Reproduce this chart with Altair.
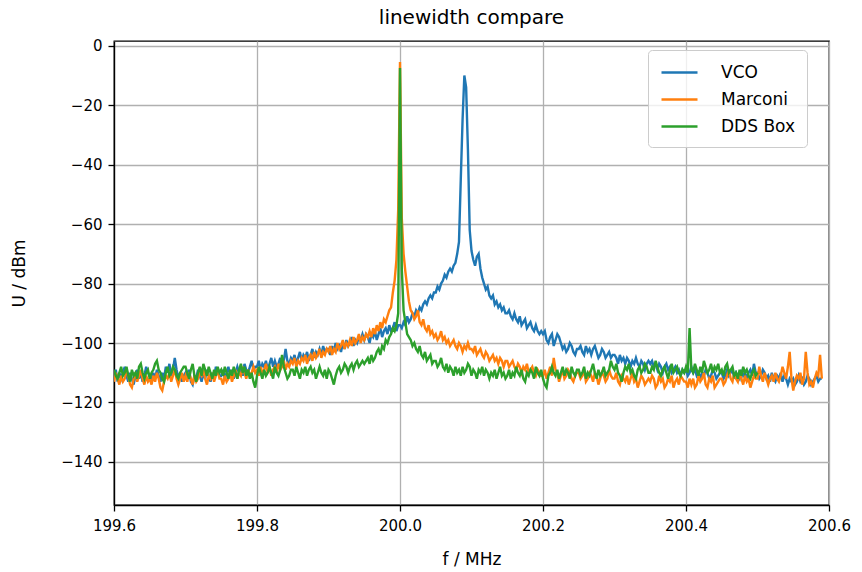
import altair as alt
import numpy as np
import pandas as pd

# Spectrum analyser traces, sampled every 2.5 kHz from 199.600 MHz
F_START = 199.6
F_STEP = 0.0025

series_names = ["VCO", "Marconi", "DDS Box"]
series_colors = ["#1f77b4", "#ff7f0e", "#2ca02c"]

# one row of 20 readings per 50 kHz
vco = [
    -111, -109, -113, -110, -112, -110, -108, -111, -113, -110, -112, -114, -111, -109, -112, -110, -113, -111, -108, -110,
    -111, -113, -110, -112, -109, -111, -113, -110, -112, -108, -110, -107, -111, -109, -105, -109, -112, -110, -113, -111,
    -110, -112, -109, -113, -114, -111, -112, -109, -111, -113, -110, -112, -109, -111, -113, -110, -112, -108, -110, -111,
    -111, -109, -112, -110, -108, -111, -109, -112, -110, -108, -110, -109, -111, -107, -109, -110, -108, -106, -109, -108,
    -108, -106, -109, -107, -108, -106, -109, -107, -105, -108, -106, -108, -107, -105, -108, -106, -102, -106, -107, -105,
    -106, -104, -107, -105, -103, -106, -104, -105, -103, -106, -104, -102, -105, -103, -104, -102, -104, -101, -103, -102,
    -102, -104, -101, -103, -100, -102, -101, -103, -100, -102, -99, -101, -100, -98, -101, -99, -100, -98, -99, -97,
    -99, -97, -98, -100, -97, -98, -96, -99, -97, -95, -98, -96, -95, -97, -94, -96, -95, -93, -96, -94,
    -94, -95, -93, -94, -91, -93, -92, -90, -91, -89, -90, -88, -89, -87, -86, -87, -85, -84, -85, -83,
    -83, -81, -82, -80, -79, -77, -78, -76, -75, -76, -74, -73, -70, -66, -45, -25, -10, -14, -35, -62,
    -69, -72, -74, -71, -70, -75, -78, -80, -82, -81, -84, -85, -84, -87, -86, -88, -87, -89, -88, -90,
    -90, -89, -91, -92, -90, -92, -93, -91, -94, -93, -92, -95, -94, -93, -95, -96, -94, -96, -97, -96,
    -97, -96, -99, -100, -98, -97, -101, -99, -97, -98, -100, -102, -101, -103, -102, -100, -101, -103, -104, -102,
    -102, -101, -103, -104, -101, -103, -102, -104, -102, -101, -103, -105, -104, -102, -103, -105, -104, -103, -105, -104,
    -104, -105, -107, -104, -106, -105, -107, -105, -106, -108, -106, -107, -105, -107, -108, -106, -107, -109, -107, -106,
    -107, -106, -108, -107, -109, -107, -108, -110, -108, -107, -109, -108, -110, -109, -108, -110, -109, -111, -109, -110,
    -109, -111, -110, -108, -110, -109, -111, -110, -112, -110, -111, -109, -110, -112, -111, -109, -110, -112, -111, -110,
    -110, -112, -111, -109, -111, -110, -109, -112, -110, -111, -112, -109, -111, -110, -112, -110, -109, -111, -107, -110,
    -110, -112, -111, -109, -110, -112, -111, -113, -110, -112, -113, -111, -112, -110, -113, -111, -112, -114, -112, -113,
    -112, -114, -113, -111, -113, -112, -114, -113, -111, -112, -114, -113, -112, -111, -113, -112, -112,
]

marconi = [
    -113, -110, -112, -114, -111, -113, -112, -109, -111, -114, -115, -112, -110, -113, -111, -109, -112, -114, -111, -113,
    -112, -114, -111, -113, -110, -112, -115, -116, -113, -111, -112, -110, -113, -111, -109, -112, -114, -112, -110, -113,
    -111, -113, -110, -112, -114, -111, -113, -112, -110, -111, -109, -112, -114, -111, -112, -110, -113, -111, -109, -112,
    -112, -114, -111, -113, -112, -110, -113, -111, -109, -112, -110, -111, -108, -110, -112, -109, -111, -110, -108, -110,
    -109, -111, -108, -110, -109, -107, -110, -108, -111, -109, -108, -110, -107, -109, -108, -106, -109, -107, -108, -106,
    -107, -105, -108, -106, -107, -105, -106, -104, -107, -105, -104, -106, -103, -105, -104, -102, -105, -103, -104, -102,
    -103, -101, -104, -102, -103, -100, -102, -101, -99, -102, -100, -101, -99, -101, -98, -100, -99, -97, -100, -98,
    -99, -97, -98, -96, -98, -95, -97, -94, -96, -93, -95, -92, -93, -91, -89, -88, -83, -79, -72, -55,
    -5.5, -58, -70, -76, -81, -86, -89, -90, -92, -91, -89, -93, -94, -92, -95, -96, -94, -97, -96, -98,
    -97, -99, -98, -96, -99, -98, -100, -99, -101, -100, -99, -101, -102, -100, -101, -103, -101, -102, -100, -102,
    -102, -103, -101, -104, -103, -102, -104, -105, -103, -104, -106, -105, -104, -106, -105, -107, -105, -106, -108, -106,
    -106, -108, -107, -106, -108, -109, -107, -108, -110, -108, -109, -107, -110, -109, -108, -110, -111, -109, -110, -111,
    -111, -109, -112, -110, -108, -111, -105, -109, -110, -113, -111, -109, -112, -111, -109, -110, -112, -113, -111, -110,
    -110, -112, -111, -109, -113, -112, -110, -111, -113, -110, -111, -114, -112, -110, -111, -113, -112, -109, -111, -112,
    -112, -110, -113, -114, -111, -112, -113, -111, -114, -112, -110, -113, -112, -115, -113, -111, -112, -114, -113, -112,
    -113, -111, -112, -115, -114, -111, -113, -112, -115, -114, -112, -113, -111, -115, -113, -112, -114, -111, -112, -113,
    -113, -115, -112, -114, -112, -115, -114, -111, -113, -112, -110, -114, -115, -112, -113, -111, -115, -114, -113, -112,
    -112, -114, -113, -111, -109, -112, -113, -110, -112, -113, -110, -112, -114, -111, -113, -112, -115, -113, -111, -112,
    -112, -108, -111, -113, -110, -112, -114, -112, -111, -113, -110, -112, -113, -111, -108, -110, -112, -108, -103, -112,
    -116, -113, -111, -112, -110, -114, -112, -103, -110, -114, -113, -115, -112, -110, -111, -104, -112,
]

dds_box = [
    -109, -111, -112, -110, -108, -111, -110, -108, -111, -113, -109, -111, -110, -112, -108, -107, -110, -112, -110, -109,
    -112, -110, -109, -107, -106, -109, -110, -112, -113, -110, -108, -111, -110, -108, -109, -111, -112, -110, -109, -108,
    -108, -110, -112, -109, -107, -111, -113, -110, -108, -111, -107, -109, -111, -108, -110, -112, -109, -111, -108, -110,
    -109, -111, -108, -110, -112, -109, -111, -108, -110, -112, -109, -107, -110, -108, -111, -109, -112, -110, -113, -115,
    -111, -108, -110, -112, -109, -111, -110, -108, -110, -112, -108, -110, -111, -109, -104, -108, -110, -112, -111, -109,
    -109, -111, -108, -110, -112, -109, -110, -108, -111, -109, -108, -110, -109, -112, -110, -108, -110, -111, -109, -112,
    -109, -110, -112, -114, -111, -109, -108, -110, -109, -107, -108, -110, -108, -107, -109, -107, -106, -108, -107, -106,
    -107, -106, -105, -107, -104, -106, -105, -103, -102, -104, -101, -102, -99, -100, -98, -97, -95, -96, -94, -90,
    -7.5, -75, -89, -93, -97, -98, -99, -101, -100, -102, -103, -101, -104, -105, -103, -106, -105, -104, -107, -106,
    -106, -108, -107, -105, -108, -109, -107, -110, -108, -109, -111, -108, -110, -109, -111, -108, -110, -109, -107, -108,
    -111, -109, -110, -112, -109, -110, -108, -111, -109, -110, -112, -110, -111, -109, -112, -110, -108, -111, -110, -112,
    -111, -109, -112, -110, -111, -108, -110, -111, -109, -112, -113, -110, -111, -109, -110, -112, -108, -110, -111, -109,
    -112, -114, -115, -111, -110, -108, -110, -111, -109, -112, -110, -108, -111, -109, -110, -112, -108, -110, -111, -109,
    -109, -111, -110, -108, -112, -110, -111, -109, -107, -110, -112, -109, -111, -110, -108, -111, -110, -109, -106, -108,
    -109, -107, -110, -111, -113, -110, -108, -109, -107, -110, -109, -111, -112, -109, -108, -110, -109, -107, -108, -110,
    -110, -108, -109, -106, -108, -110, -111, -109, -108, -110, -112, -109, -107, -110, -109, -108, -110, -111, -109, -110,
    -108, -110, -95, -109, -110, -107, -109, -111, -108, -110, -106, -108, -110, -109, -107, -110, -108, -109, -107, -110,
    -109, -111, -108, -107, -110, -109, -108, -111, -110, -112, -109, -111, -108, -110, -109, -111, -112, -110, -109, -111,
    -110,
]

x_ticks = [199.6, 199.8, 200.0, 200.2, 200.4, 200.6]
y_ticks = [-140, -120, -100, -80, -60, -40, -20, 0]

frames = []
for name, vals in zip(series_names, [vco, marconi, dds_box]):
    n = len(vals)
    frames.append(pd.DataFrame({
        "f": np.round(F_START + F_STEP * np.arange(n), 4),
        "U": vals,
        "series": name,
        "idx": np.arange(n),
    }))
df = pd.concat(frames, ignore_index=True)

FONT = "DejaVu Sans"

chart = alt.Chart(df).mark_line(strokeWidth=2.4, clip=True).encode(
    x=alt.X(
        "f:Q",
        scale=alt.Scale(domain=[199.6, 200.6], nice=False, zero=False),
        axis=alt.Axis(values=x_ticks, format=".1f", title="f / MHz",
                      labelPadding=7, titlePadding=18,
                      labelFlush=False, labelOverlap=False),
    ),
    y=alt.Y(
        "U:Q",
        scale=alt.Scale(domain=[-154.5, 1.6], nice=False, zero=False),
        axis=alt.Axis(values=y_ticks, format="d", title="U / dBm",
                      labelPadding=6, titlePadding=32,
                      labelFlush=False, labelOverlap=False),
    ),
    color=alt.Color(
        "series:N",
        sort=series_names,
        scale=alt.Scale(domain=series_names, range=series_colors),
        legend=alt.Legend(
            title=None,
            orient="none",
            legendX=534,
            legendY=9,
            symbolType="M-1,0H3",
            symbolSize=324,
            symbolStrokeWidth=2.4,
            labelFontSize=17,
            labelFont=FONT,
            labelColor="black",
            labelOffset=40,
            padding=12,
            rowPadding=8,
            fillColor="rgba(255,255,255,0.8)",
            strokeColor="#cccccc",
            cornerRadius=4,
        ),
    ),
    order="idx:Q",
).properties(
    width=715,
    height=464,
    title=alt.TitleParams(
        "linewidth compare",
        fontSize=20,
        font=FONT,
        fontWeight="normal",
        color="black",
        anchor="middle",
        baseline="bottom",
        offset=-9,
    ),
    autosize=alt.AutoSizeParams(type="none"),
    padding={"left": 114, "top": 41, "right": 33, "bottom": 67},
).configure_view(
    stroke="black",
    strokeWidth=1.3,
).configure_axis(
    labelFont=FONT,
    labelFontSize=15,
    labelColor="black",
    titleFont=FONT,
    titleFontSize=17,
    titleFontWeight="normal",
    titleColor="black",
    tickColor="black",
    tickSize=6,
    tickWidth=1.3,
    domainColor="black",
    domainWidth=1.3,
    gridColor="#b0b0b0",
    gridWidth=1.3,
)

chart.save("out.html", embed_options={"renderer": "svg", "actions": False})
